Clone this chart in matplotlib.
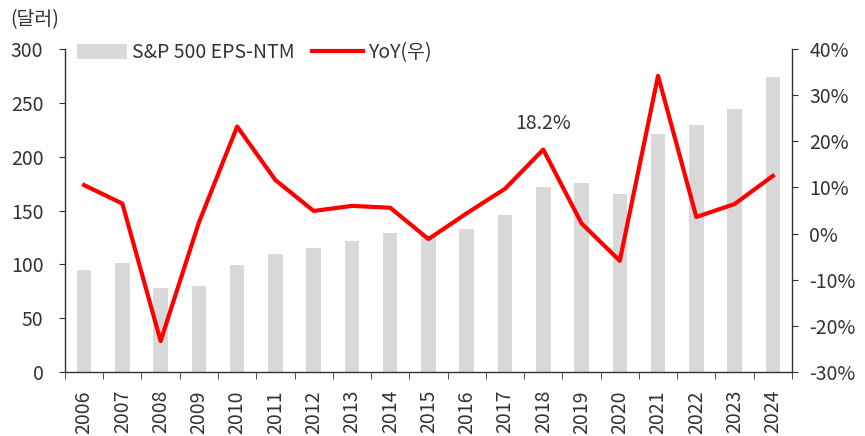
import matplotlib
matplotlib.use("Agg")
import matplotlib.pyplot as plt
import numpy as np

plt.rcParams['font.family'] = ['Noto Sans CJK KR', 'DejaVu Sans']

years = [str(y) for y in range(2006, 2025)]
eps_ntm = [95, 101, 78, 80, 99, 110, 115, 122, 129, 127, 133, 146, 172, 176, 165, 221, 229, 244, 274]
yoy = [10.5, 6.5, -23.3, 2.4, 23.2, 11.6, 4.9, 6.0, 5.6, -1.2, 4.4, 9.7, 18.2, 2.2, -5.9, 34.2, 3.6, 6.4, 12.5]

text_color = '#333333'
bar_color = '#D9D9D9'
line_color = '#FF0000'

fig = plt.figure(figsize=(8.65, 4.36), dpi=100)
ax = fig.add_axes([0.0751, 0.1468, 0.8405, 0.7408])
ax2 = ax.twinx()

x = np.arange(len(years))
ax.bar(x, eps_ntm, width=0.38, color=bar_color, label='S&P 500 EPS-NTM', zorder=1)
ax2.plot(x, yoy, color=line_color, lw=3, label='YoY(우)', zorder=3)

ax.set_xlim(-0.5, len(years) - 0.5)
ax.set_ylim(0, 300)
ax.set_yticks(range(0, 301, 50))
ax2.set_ylim(-30, 40)
ax2.set_yticks(range(-30, 41, 10))
ax2.set_yticklabels([f'{v}%' for v in range(-30, 41, 10)])

ax.set_xticks(x)
ax.set_xticklabels(years, rotation=90)
ax.set_xticks(np.arange(-0.5, len(years), 1), minor=True)
ax.tick_params(axis='x', which='major', length=0, pad=13, labelsize=14, colors=text_color)
ax.tick_params(axis='x', which='minor', length=5, direction='out', color=text_color)
ax.tick_params(axis='y', length=4.5, labelsize=14, colors=text_color, pad=11)
ax2.tick_params(axis='y', length=4.5, labelsize=14, colors=text_color, pad=8)

for a in (ax, ax2):
    a.spines['top'].set_visible(False)
    for s in ('left', 'right', 'bottom'):
        a.spines[s].set_color(text_color)
        a.spines[s].set_linewidth(1)
ax.spines['right'].set_visible(False)
ax2.spines['left'].set_visible(False)
ax2.spines['bottom'].set_visible(False)

ax2.annotate('18.2%', xy=(12, yoy[12]), xytext=(0, 11), textcoords='offset points',
             ha='center', va='bottom', fontsize=14, color=text_color)

h1, l1 = ax.get_legend_handles_labels()
h2, l2 = ax2.get_legend_handles_labels()
ax2.legend(h1 + h2, l1 + l2, ncol=2, loc='upper left', bbox_to_anchor=(-0.008, 1.075),
           frameon=False, fontsize=14, handlelength=2.6, handleheight=0.8,
           handletextpad=0.25, columnspacing=0.9, labelcolor=text_color)

fig.text(0.012, 0.955, '(달러)', fontsize=14, color=text_color, va='center', ha='left')

fig.savefig('out.png', dpi=100)
